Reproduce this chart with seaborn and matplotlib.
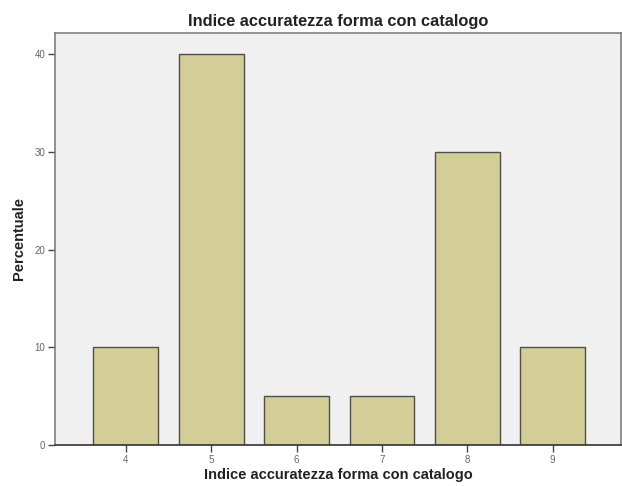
import pandas as pd
import numpy as np
import matplotlib.pyplot as plt
import seaborn as sns

# -------- Data --------
categorie = ["4", "5", "6", "7", "8", "9"]
percentuale = [10, 40, 5, 5, 30, 10]

df = pd.DataFrame({"Indice": categorie, "Percentuale": percentuale})

# -------- Plot setup --------
sns.set_style("white")
plt.rcParams["font.family"] = ["Liberation Sans", "DejaVu Sans"]

fig = plt.figure(figsize=(6.22, 4.86), dpi=100)
ax = fig.add_axes([55 / 622, 1 - 445 / 486, 566 / 622, (445 - 33) / 486])
ax.set_facecolor("#eff0ef")

sns.barplot(data=df, x="Indice", y="Percentuale", order=categorie,
            color="#d3ce97", saturation=1, width=0.76,
            edgecolor="#4f4f45", linewidth=1.0, ax=ax)

ax.set_xlim(-0.83, 5.80)
ax.set_ylim(0, 42.15)
ax.set_yticks([0, 10, 20, 30, 40])

for s in ax.spines.values():
    s.set_color("#808080")
    s.set_linewidth(1.2)
ax.spines["bottom"].set_color("#333333")

ax.tick_params(axis="both", bottom=True, left=True, direction="out",
               length=5, width=1, color="#444444", labelsize=7,
               labelcolor="#666666", pad=2)

ax.set_title("Indice accuratezza forma con catalogo", fontsize=11.8,
             fontweight="bold", color="#222222", pad=5)
ax.set_xlabel("Indice accuratezza forma con catalogo", fontsize=10.5,
              fontweight="bold", color="#222222", labelpad=2)
ax.set_ylabel("Percentuale", fontsize=10.5, fontweight="bold",
              color="#222222", labelpad=6)

fig.savefig("out.png", dpi=100)
